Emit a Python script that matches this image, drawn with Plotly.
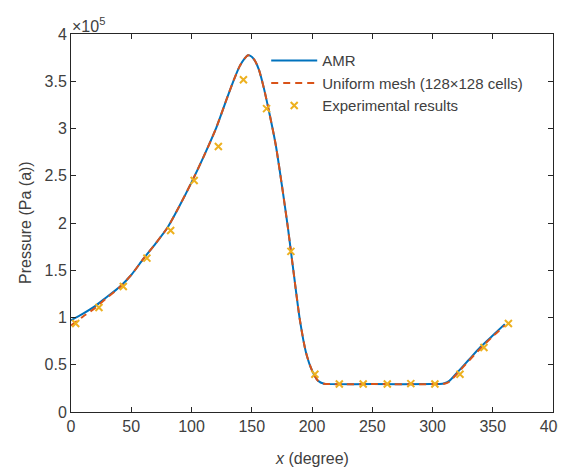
import plotly.graph_objects as go

# Values in units of 1e5 Pa
amr_x = [0, 10, 20, 30, 40, 50, 60, 70, 80, 90, 100, 110, 120, 130, 135, 140, 144, 147, 150, 153, 156,
         160, 165, 170, 175, 180, 185, 190, 195, 200, 205, 210, 215, 250, 300, 306, 310, 314, 320, 330,
         340, 350, 360]
amr_y = [0.97, 1.04, 1.12, 1.22, 1.32, 1.45, 1.62, 1.78, 1.95, 2.18, 2.43, 2.70, 2.99, 3.34, 3.51, 3.66,
         3.74, 3.775, 3.76, 3.71, 3.62, 3.43, 3.14, 2.82, 2.40, 1.95, 1.45, 0.97, 0.63, 0.44, 0.33, 0.298,
         0.295, 0.295, 0.295, 0.296, 0.305, 0.33, 0.41, 0.55, 0.69, 0.81, 0.93]

uni_x = [0, 10, 20, 30, 40, 50, 60, 70, 80, 90, 100, 110, 120, 130, 135, 140, 144, 147, 150, 153, 156,
         160, 165, 170, 175, 180, 185, 190, 195, 200, 205, 210, 215, 250, 300, 306, 310, 314, 320, 330,
         340, 350, 360]
uni_y = [0.915, 1.01, 1.10, 1.21, 1.315, 1.45, 1.62, 1.78, 1.95, 2.18, 2.43, 2.70, 2.99, 3.34, 3.51, 3.66,
         3.74, 3.775, 3.76, 3.71, 3.62, 3.43, 3.14, 2.82, 2.40, 1.95, 1.45, 0.97, 0.63, 0.44, 0.33, 0.298,
         0.295, 0.295, 0.295, 0.296, 0.30, 0.32, 0.40, 0.54, 0.675, 0.80, 0.915]

exp_x = [3.9, 23.2, 43.4, 63, 82.7, 102.2, 122.3, 143.1, 162.3, 182.5, 202.4, 222.7, 242.5, 262.5, 282,
         302, 322.8, 342.7, 363]
exp_y = [0.937, 1.106, 1.328, 1.628, 1.92, 2.45, 2.81, 3.516, 3.21, 1.70, 0.40, 0.296, 0.296, 0.296,
         0.30, 0.296, 0.40, 0.683, 0.937]

names = ["AMR", "Uniform mesh (128×128 cells)", "Experimental results"]
x_title = "<i>x</i> (degree)"
y_title = "Pressure (Pa (a))"

FONT = "Liberation Sans, Arial, sans-serif"
AX = "#262626"
TXT = "#404040"

fig = go.Figure()
fig.add_trace(go.Scatter(x=amr_x, y=amr_y, mode="lines", name=names[0],
                         line=dict(color="#0072BD", width=2, shape="spline", smoothing=0.7)))
fig.add_trace(go.Scatter(x=uni_x, y=uni_y, mode="lines", name=names[1],
                         line=dict(color="#D95319", width=2, dash="7px,5px", shape="spline", smoothing=0.7)))
fig.add_trace(go.Scatter(x=exp_x, y=exp_y, mode="markers", name=names[2],
                         marker=dict(symbol="x-thin", size=7, color="#EDB120",
                                     line=dict(color="#EDB120", width=2))))

axis_common = dict(showline=True, linecolor=AX, linewidth=1, mirror="ticks", ticks="inside",
                   ticklen=5, tickcolor=AX, showgrid=False, zeroline=False, automargin=False,
                   ticklabeloverflow="allow",
                   tickfont=dict(family=FONT, size=16, color=TXT))

fig.update_xaxes(range=[0, 400], dtick=50, tick0=0, **axis_common)
fig.update_yaxes(range=[0, 4], dtick=0.5, tick0=0, **axis_common)

fig.add_annotation(x=0, y=1, xref="paper", yref="paper", xanchor="left", yanchor="bottom",
                   text="×10<sup>5</sup>", showarrow=False, xshift=-1, yshift=-3,
                   font=dict(family=FONT, size=16, color=TXT))
fig.add_annotation(x=0.5, y=0, xref="paper", yref="paper", xanchor="center", yanchor="middle",
                   text=x_title, showarrow=False, yshift=-46,
                   font=dict(family=FONT, size=16, color=TXT))
fig.add_annotation(x=0, y=0.5, xref="paper", yref="paper", xanchor="center", yanchor="middle",
                   text=y_title, showarrow=False, xshift=-46, textangle=-90,
                   font=dict(family=FONT, size=16, color=TXT))

# page has an 8px body margin, so the figure is offset by (8, 8)
fig.update_layout(
    width=558, height=460,
    margin=dict(l=63, r=13, t=26, b=56),
    plot_bgcolor="white", paper_bgcolor="white",
    showlegend=True,
    legend=dict(x=0.405, y=0.973, xanchor="left", yanchor="top", bgcolor="rgba(0,0,0,0)",
                borderwidth=0, itemwidth=46, font=dict(family=FONT, size=15, color=TXT), tracegroupgap=0),
)

fig.write_html("out.html")
